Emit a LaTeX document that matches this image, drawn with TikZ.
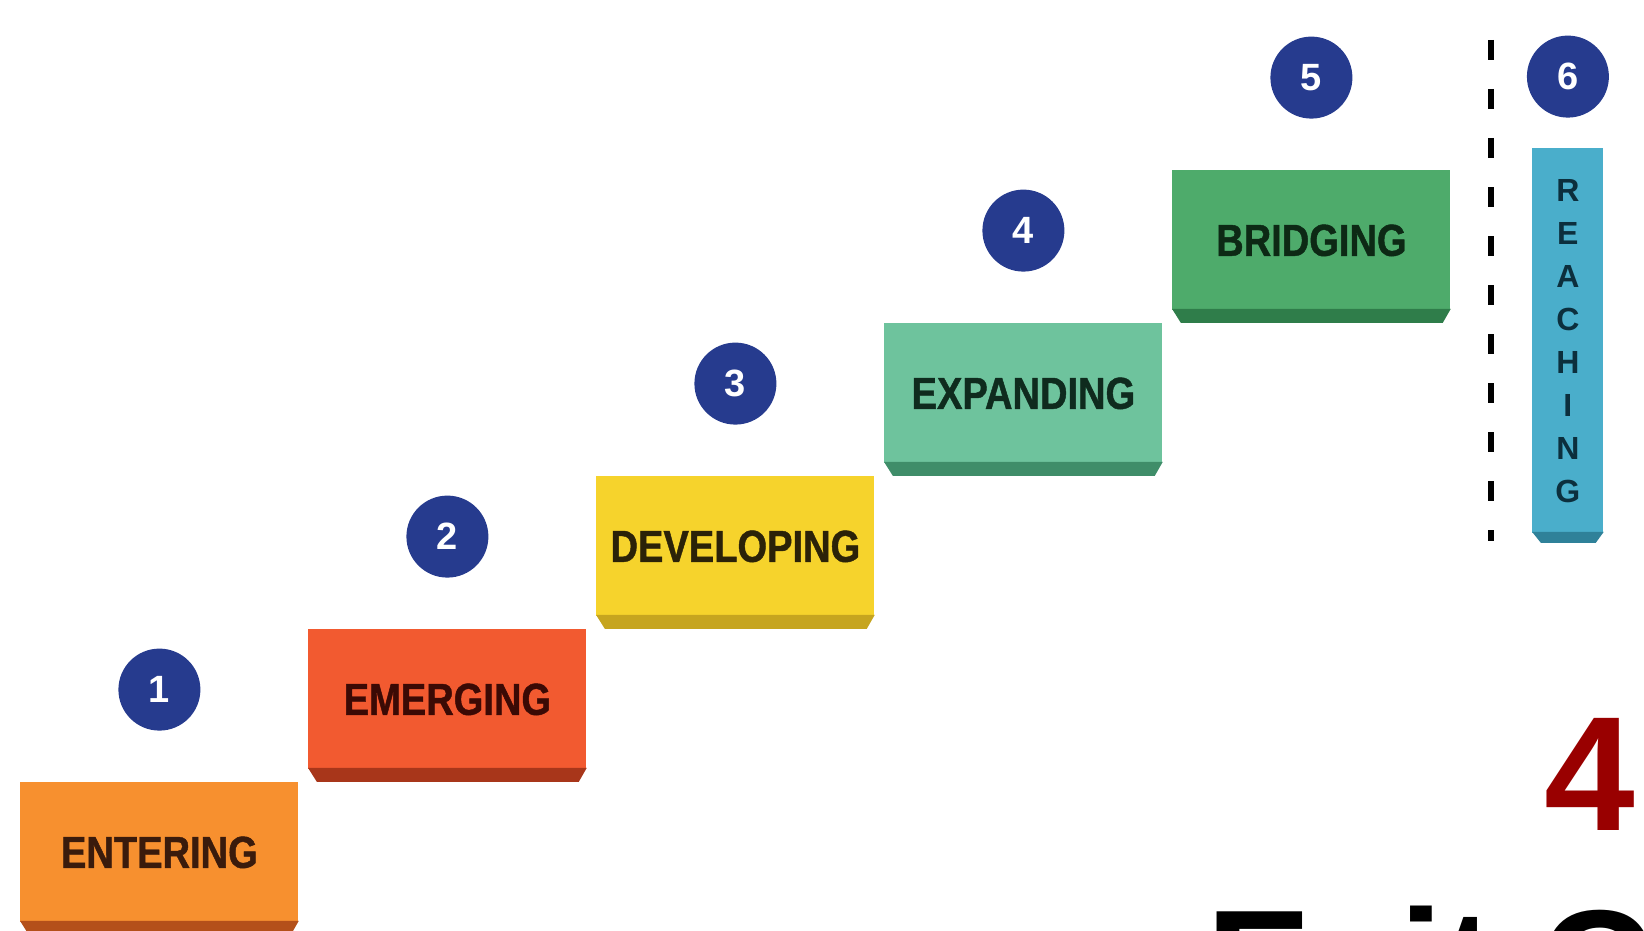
\documentclass[tikz,border=0pt]{standalone}
\usepackage{fontspec}
\setmainfont{Liberation Sans}
\newfontfamily\stepfont{Liberation Sans}[FakeStretch=0.85, BoldFeatures={FakeBold=1}]
\usetikzlibrary{positioning}

\definecolor{dotblue}{HTML}{263B8E}
\definecolor{enterfill}{HTML}{F7902F}
\definecolor{entershade}{HTML}{B4501A}
\definecolor{entertext}{HTML}{3A1B0C}
\definecolor{emergefill}{HTML}{F25A30}
\definecolor{emergeshade}{HTML}{A8361A}
\definecolor{emergetext}{HTML}{3B0A05}
\definecolor{developfill}{HTML}{F6D32C}
\definecolor{developshade}{HTML}{C6A51F}
\definecolor{developtext}{HTML}{2B2208}
\definecolor{expandfill}{HTML}{6EC39D}
\definecolor{expandshade}{HTML}{3F8D69}
\definecolor{expandtext}{HTML}{0F2B1E}
\definecolor{bridgefill}{HTML}{4EAB6B}
\definecolor{bridgeshade}{HTML}{2F7D4A}
\definecolor{bridgetext}{HTML}{0D2915}
\definecolor{reachfill}{HTML}{4AAECB}
\definecolor{reachshade}{HTML}{2F8199}
\definecolor{reachtext}{HTML}{0C2F3D}
\definecolor{levelred}{HTML}{990000}

\tikzset{
  stepbox/.style={rectangle, inner sep=0pt, anchor=north west,
    minimum width=139pt, minimum height=70pt,
    font=\stepfont\bfseries\fontsize{22.4}{24}\selectfont},
  numdot/.style={circle, fill=dotblue, inner sep=0pt, minimum size=41pt,
    text=white, font=\bfseries\fontsize{19}{20}\selectfont},
}

\begin{document}
\begin{tikzpicture}[x=0.5pt, y=-0.5pt]
  \useasboundingbox (0,0) rectangle (1644,931);
  % Steps (staircase)
  \node[stepbox, fill=enterfill, text=entertext] (entering) at (20,782) {ENTERING};
  \node[stepbox, fill=emergefill, text=emergetext] (emerging) at (308,629) {EMERGING};
  \node[stepbox, fill=developfill, text=developtext] (developing) at (596,476) {DEVELOPING};
  \node[stepbox, fill=expandfill, text=expandtext] (expanding) at (884,323) {EXPANDING};
  \node[stepbox, fill=bridgefill, text=bridgetext] (bridging) at (1172,170) {BRIDGING};
  % Bevelled lower edges
  \fill[entershade] ([yshift=1pt]entering.south west) -- ([yshift=1pt]entering.south east) -- ++(-8,14) -- ++(-262,0) -- cycle;
  \fill[emergeshade] ([yshift=1pt]emerging.south west) -- ([yshift=1pt]emerging.south east) -- ++(-8,14) -- ++(-262,0) -- cycle;
  \fill[developshade] ([yshift=1pt]developing.south west) -- ([yshift=1pt]developing.south east) -- ++(-8,14) -- ++(-262,0) -- cycle;
  \fill[expandshade] ([yshift=1pt]expanding.south west) -- ([yshift=1pt]expanding.south east) -- ++(-8,14) -- ++(-262,0) -- cycle;
  \fill[bridgeshade] ([yshift=1pt]bridging.south west) -- ([yshift=1pt]bridging.south east) -- ++(-8,14) -- ++(-262,0) -- cycle;
  % Numbered dots
  \node[numdot, above=25.5pt of entering] (dot1) {1};
  \node[numdot, above=25.5pt of emerging] (dot2) {2};
  \node[numdot, above=25.5pt of developing] (dot3) {3};
  \node[numdot, above=25.5pt of expanding] (dot4) {4};
  \node[numdot, above=25.5pt of bridging] (dot5) {5};
  % Separator
  \draw[line width=3pt, dash pattern=on 10pt off 14.5pt] (1491,40) -- (1491,541);
  % Last stage, upright
  \node[rectangle, inner sep=0pt, anchor=north west, minimum width=35.5pt, minimum height=192.5pt,
    fill=reachfill, text=reachtext, align=center,
    font=\bfseries\fontsize{16}{21.5}\selectfont] (reaching) at (1532,148) {R\\E\\A\\C\\H\\I\\N\\G};
  \fill[reachshade] ([yshift=1pt]reaching.south west) -- ([yshift=1pt]reaching.south east) -- ++(-8,11) -- ++(-55,0) -- cycle;
  \node[numdot, above=15pt of reaching] (dot6) {6};
  % Slide text
  \node[anchor=base west, inner sep=0pt, text=levelred, font=\bfseries\fontsize{81.5}{82}\selectfont] (level) at (1544,830) {4};
  \node[anchor=base west, inner sep=0pt, font=\bfseries\fontsize{79}{80}\selectfont] (exit) at (1206,1020) {Exit C};
\end{tikzpicture}
\end{document}
